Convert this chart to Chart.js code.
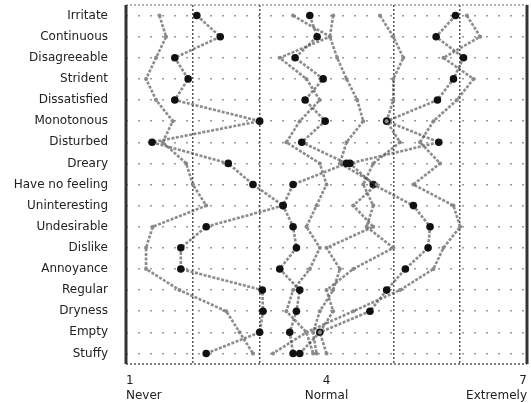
<!DOCTYPE html>
<html>
<head>
<meta charset="utf-8">
<script src="https://cdn.jsdelivr.net/npm/chart.js@4/dist/chart.umd.min.js"></script>
<style>
  html, body { margin: 0; padding: 0; background: #fff; }
  .wrap { width: 531px; height: 403px; }
</style>
</head>
<body>
<div class="wrap"><canvas id="myChart"></canvas></div>
<script>
// categories (top to bottom)
const words = ['Irritate', 'Continuous', 'Disagreeable', 'Strident', 'Dissatisfied', 'Monotonous', 'Disturbed', 'Dreary',
  'Have no feeling', 'Uninteresting', 'Undesirable', 'Dislike', 'Annoyance', 'Regular', 'Dryness', 'Empty', 'Stuffy'];

// x tick labels
const scaleLabels = { 1: ['1', 'Never'], 4: ['4', 'Normal'], 7: ['7', 'Extremely'] };

// profiles (1 = never ... 7 = extremely)
const profileA = [2.06, 2.41, 1.73, 1.93, 1.73, 3.0, 1.39, 2.53, 2.9, 3.35, 2.2, 1.82, 1.82, 3.04, 3.05, 3.0, 2.2];
const profileB = [3.75, 3.86, 3.53, 3.95, 3.68, 3.98, 3.63, 4.3, 3.5, 3.35, 3.5, 3.55, 3.3, 3.6, 3.55, 3.45, 3.5];
const profileC = [3.5, 4.05, 3.3, 3.7, 3.9, 3.6, 3.4, 3.9, 4.0, 3.85, 3.7, 3.9, 3.75, 3.5, 3.4, 3.7, 3.8];
const profileD = [4.1, 4.05, 4.16, 4.3, 4.46, 4.55, 4.3, 4.2, 4.75, 4.4, 4.7, 4.0, 4.2, 4.1, 3.9, 3.8, 3.85];
const profileE = [4.8, 5.0, 5.15, 5.0, 5.0, 4.9, 5.1, 4.7, 4.55, 4.7, 4.6, 5.0, 4.4, 4.0, 4.1, 3.9, 4.0];
const profileF = [5.93, 5.64, 6.05, 5.9, 5.66, 4.9, 5.68, 4.35, 4.7, 5.3, 5.55, 5.52, 5.18, 4.9, 4.65, 3.9, 3.6];
const profileG = [6.1, 6.3, 5.75, 6.2, 5.95, 5.6, 5.4, 5.7, 5.3, 5.9, 6.0, 5.75, 5.6, 5.1, 4.4, 3.7, 3.2];
const profileH = [1.5, 1.6, 1.45, 1.3, 1.45, 1.7, 1.55, 1.9, 2.0, 2.2, 1.4, 1.3, 1.3, 1.8, 2.5, 2.7, 2.9];

const ctx = document.getElementById('myChart');

const frame = {
  id: 'frame',
  afterDraw(chart) {
    const {ctx, chartArea: {left, top, right, bottom}} = chart;
    ctx.save();
    ctx.strokeStyle = '#999';
    ctx.lineWidth = 1.5;
    ctx.setLineDash([2, 2]);
    ctx.beginPath();
    ctx.moveTo(left, top);
    ctx.lineTo(right, top);
    ctx.stroke();
    ctx.strokeStyle = '#555';
    ctx.beginPath();
    ctx.moveTo(left, bottom);
    ctx.lineTo(right, bottom);
    ctx.stroke();
    ctx.setLineDash([]);
    ctx.strokeStyle = '#333';
    ctx.lineWidth = 3;
    ctx.beginPath();
    ctx.moveTo(left, top);
    ctx.lineTo(left, bottom);
    ctx.moveTo(right, top);
    ctx.lineTo(right, bottom);
    ctx.stroke();
    ctx.restore();
  }
};

function profile(data, dark) {
  return {
    data: data,
    borderColor: 'rgba(70, 70, 70, 0.62)',
    borderWidth: 2.6,
    borderDash: [3, 1.5],
    pointRadius: dark ? 3.8 : 2,
    pointBackgroundColor: dark ? '#111' : '#8a8a8a',
    pointBorderWidth: 0,
    tension: 0,
  };
}

new Chart(ctx, {
  type: 'line',
  data: {
    labels: words,
    datasets: [
      profile(profileH, false),
      profile(profileA, true),
      profile(profileC, false),
      profile(profileB, true),
      profile(profileD, false),
      profile(profileE, false),
      profile(profileG, false),
      profile(profileF, true),
    ]
  },
  options: {
    indexAxis: 'y',
    maintainAspectRatio: false,
    animation: false,
    layout: { padding: { left: 0, right: 4, top: 5, bottom: 0 } },
    scales: {
      y: {
        type: 'category',
        offset: true,
        afterFit(scale) {
          scale.width = 126;
          scale.paddingTop = 0;
          scale.paddingBottom = 0;
        },
        grid: {
          offset: false,
          color: '#999',
          lineWidth: 1.5,
          drawTicks: false,
        },
        border: { display: false, dash: [2, 10] },
        ticks: {
          padding: 18,
          color: '#222',
          font: { size: 12, family: 'DejaVu Sans' },
        },
      },
      x: {
        type: 'linear',
        min: 1,
        max: 7,
        afterFit(scale) {
          scale.height = 39;
          scale.paddingLeft = 0;
          scale.paddingRight = 0;
        },
        grid: {
          color: c => [2, 3, 5, 6].includes(c.tick && c.tick.value) ? '#555' : 'rgba(0,0,0,0)',
          lineWidth: 1.5,
          drawTicks: false,
        },
        border: { display: false, dash: [2, 2] },
        ticks: {
          stepSize: 1,
          autoSkip: false,
          maxRotation: 0,
          minRotation: 0,
          align: 'inner',
          padding: 10,
          color: '#222',
          font: { size: 12, family: 'DejaVu Sans' },
          callback: v => scaleLabels[v] || '',
        },
      },
    },
    plugins: {
      legend: { display: false },
      tooltip: { enabled: false },
    }
  },
  plugins: [frame]
});
</script>
</body>
</html>
